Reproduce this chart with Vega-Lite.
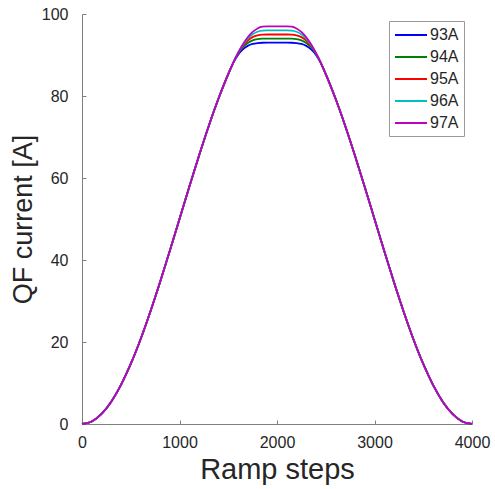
{
  "$schema": "https://vega.github.io/schema/vega-lite/v6.json",
  "autosize": {"type": "none"},
  "padding": {"left": 82, "top": 14, "right": 23, "bottom": 65},
  "width": 390,
  "height": 410,
  "background": "white",
  "config": {
    "view": {"stroke": null},
    "font": "Liberation Sans"
  },
  "data": {
    "values": [
      {"x": 0, "93A": 0, "94A": 0, "95A": 0, "96A": 0, "97A": 0},
      {"x": 100, "93A": 0.62, "94A": 0.62, "95A": 0.62, "96A": 0.62, "97A": 0.62},
      {"x": 200, "93A": 2.45, "94A": 2.45, "95A": 2.45, "96A": 2.45, "97A": 2.45},
      {"x": 300, "93A": 5.45, "94A": 5.45, "95A": 5.45, "96A": 5.45, "97A": 5.45},
      {"x": 400, "93A": 9.55, "94A": 9.55, "95A": 9.55, "96A": 9.55, "97A": 9.55},
      {"x": 500, "93A": 14.64, "94A": 14.64, "95A": 14.64, "96A": 14.64, "97A": 14.64},
      {"x": 600, "93A": 20.61, "94A": 20.61, "95A": 20.61, "96A": 20.61, "97A": 20.61},
      {"x": 700, "93A": 27.3, "94A": 27.3, "95A": 27.3, "96A": 27.3, "97A": 27.3},
      {"x": 800, "93A": 34.55, "94A": 34.55, "95A": 34.55, "96A": 34.55, "97A": 34.55},
      {"x": 900, "93A": 42.18, "94A": 42.18, "95A": 42.18, "96A": 42.18, "97A": 42.18},
      {"x": 1000, "93A": 50, "94A": 50, "95A": 50, "96A": 50, "97A": 50},
      {"x": 1100, "93A": 57.82, "94A": 57.82, "95A": 57.82, "96A": 57.82, "97A": 57.82},
      {"x": 1200, "93A": 65.45, "94A": 65.45, "95A": 65.45, "96A": 65.45, "97A": 65.45},
      {"x": 1300, "93A": 72.7, "94A": 72.7, "95A": 72.7, "96A": 72.7, "97A": 72.7},
      {"x": 1400, "93A": 79.39, "94A": 79.39, "95A": 79.39, "96A": 79.39, "97A": 79.39},
      {"x": 1500, "93A": 85.36, "94A": 85.36, "95A": 85.36, "96A": 85.36, "97A": 85.36},
      {"x": 1550, "93A": 88.0, "94A": 88.02, "95A": 88.02, "96A": 88.02, "97A": 88.02},
      {"x": 1600, "93A": 90.03, "94A": 90.29, "95A": 90.42, "96A": 90.45, "97A": 90.45},
      {"x": 1650, "93A": 91.39, "94A": 91.89, "95A": 92.26, "96A": 92.48, "97A": 92.59},
      {"x": 1700, "93A": 92.23, "94A": 92.93, "95A": 93.53, "96A": 94.0, "97A": 94.32},
      {"x": 1750, "93A": 92.69, "94A": 93.55, "95A": 94.35, "96A": 95.04, "97A": 95.62},
      {"x": 1800, "93A": 92.91, "94A": 93.87, "95A": 94.79, "96A": 95.67, "97A": 96.48},
      {"x": 1850, "93A": 92.99, "94A": 93.98, "95A": 94.97, "96A": 95.95, "97A": 96.93},
      {"x": 1900, "93A": 93, "94A": 94, "95A": 95, "96A": 96, "97A": 97},
      {"x": 1950, "93A": 93, "94A": 94, "95A": 95, "96A": 96, "97A": 97},
      {"x": 2000, "93A": 93, "94A": 94, "95A": 95, "96A": 96, "97A": 97},
      {"x": 2050, "93A": 93, "94A": 94, "95A": 95, "96A": 96, "97A": 97},
      {"x": 2100, "93A": 93, "94A": 94, "95A": 95, "96A": 96, "97A": 97},
      {"x": 2150, "93A": 92.99, "94A": 93.98, "95A": 94.97, "96A": 95.95, "97A": 96.93},
      {"x": 2200, "93A": 92.91, "94A": 93.87, "95A": 94.79, "96A": 95.67, "97A": 96.48},
      {"x": 2250, "93A": 92.69, "94A": 93.55, "95A": 94.35, "96A": 95.04, "97A": 95.62},
      {"x": 2300, "93A": 92.23, "94A": 92.93, "95A": 93.53, "96A": 94.0, "97A": 94.32},
      {"x": 2350, "93A": 91.39, "94A": 91.89, "95A": 92.26, "96A": 92.48, "97A": 92.59},
      {"x": 2400, "93A": 90.03, "94A": 90.29, "95A": 90.42, "96A": 90.45, "97A": 90.45},
      {"x": 2450, "93A": 88.0, "94A": 88.02, "95A": 88.02, "96A": 88.02, "97A": 88.02},
      {"x": 2500, "93A": 85.36, "94A": 85.36, "95A": 85.36, "96A": 85.36, "97A": 85.36},
      {"x": 2600, "93A": 79.39, "94A": 79.39, "95A": 79.39, "96A": 79.39, "97A": 79.39},
      {"x": 2700, "93A": 72.7, "94A": 72.7, "95A": 72.7, "96A": 72.7, "97A": 72.7},
      {"x": 2800, "93A": 65.45, "94A": 65.45, "95A": 65.45, "96A": 65.45, "97A": 65.45},
      {"x": 2900, "93A": 57.82, "94A": 57.82, "95A": 57.82, "96A": 57.82, "97A": 57.82},
      {"x": 3000, "93A": 50, "94A": 50, "95A": 50, "96A": 50, "97A": 50},
      {"x": 3100, "93A": 42.18, "94A": 42.18, "95A": 42.18, "96A": 42.18, "97A": 42.18},
      {"x": 3200, "93A": 34.55, "94A": 34.55, "95A": 34.55, "96A": 34.55, "97A": 34.55},
      {"x": 3300, "93A": 27.3, "94A": 27.3, "95A": 27.3, "96A": 27.3, "97A": 27.3},
      {"x": 3400, "93A": 20.61, "94A": 20.61, "95A": 20.61, "96A": 20.61, "97A": 20.61},
      {"x": 3500, "93A": 14.64, "94A": 14.64, "95A": 14.64, "96A": 14.64, "97A": 14.64},
      {"x": 3600, "93A": 9.55, "94A": 9.55, "95A": 9.55, "96A": 9.55, "97A": 9.55},
      {"x": 3700, "93A": 5.45, "94A": 5.45, "95A": 5.45, "96A": 5.45, "97A": 5.45},
      {"x": 3800, "93A": 2.45, "94A": 2.45, "95A": 2.45, "96A": 2.45, "97A": 2.45},
      {"x": 3900, "93A": 0.62, "94A": 0.62, "95A": 0.62, "96A": 0.62, "97A": 0.62},
      {"x": 4000, "93A": 0, "94A": 0, "95A": 0, "96A": 0, "97A": 0}
    ]
  },
  "transform": [
    {"fold": ["93A", "94A", "95A", "96A", "97A"], "as": ["series", "current"]}
  ],
  "mark": {"type": "line", "interpolate": "monotone", "strokeWidth": 1.8, "clip": false},
  "encoding": {
    "x": {
      "field": "x",
      "type": "quantitative",
      "scale": {"domain": [0, 4000], "nice": false},
      "axis": {
        "title": "Ramp steps",
        "format": "d",
        "values": [0, 1000, 2000, 3000, 4000],
        "grid": false,
        "domainColor": "#808080",
        "tickColor": "#808080",
        "tickSize": -4,
        "labelPadding": 14,
        "labelFontSize": 16,
        "labelColor": "#262626",
        "labelFlush": false,
        "titleFontSize": 29,
        "titleFontWeight": "normal",
        "titleColor": "#262626",
        "titlePadding": 5
      }
    },
    "y": {
      "field": "current",
      "type": "quantitative",
      "scale": {"domain": [0, 100], "nice": false},
      "axis": {
        "title": "QF current [A]",
        "values": [0, 20, 40, 60, 80, 100],
        "grid": false,
        "domainColor": "#808080",
        "tickColor": "#808080",
        "tickSize": -4,
        "labelPadding": 18,
        "labelFontSize": 16,
        "labelColor": "#262626",
        "labelFlush": false,
        "titleFontSize": 27,
        "titleFontWeight": "normal",
        "titleColor": "#262626",
        "titlePadding": 4
      }
    },
    "color": {
      "field": "series",
      "type": "nominal",
      "scale": {
        "domain": ["93A", "94A", "95A", "96A", "97A"],
        "range": ["#0000ff", "#008000", "#ff0000", "#00bfbf", "#bf00bf"]
      },
      "legend": {
        "title": null,
        "orient": "none",
        "legendX": 307,
        "legendY": 7,
        "symbolType": "M-2,0H2",
        "symbolSize": 256,
        "symbolStrokeWidth": 2,
        "symbolOffset": 8,
        "labelFontSize": 16,
        "labelColor": "#262626",
        "labelOffset": 10,
        "rowPadding": 5,
        "padding": 5,
        "strokeColor": "#999999",
        "fillColor": "white"
      }
    }
  }
}
